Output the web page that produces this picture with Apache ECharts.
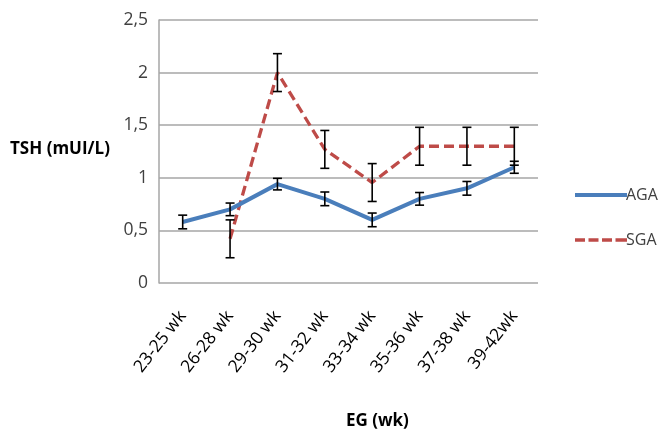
<!DOCTYPE html>
<html><head><meta charset="utf-8">
<script src="https://cdn.jsdelivr.net/npm/echarts@6/dist/echarts.min.js"></script>
<style>html,body{margin:0;padding:0;background:#fff}#c{width:665px;height:439px}</style>
</head><body><div id="c"></div>
<script>
const categories = ['23-25 wk','26-28 wk','29-30 wk','31-32 wk','33-34 wk','35-36 wk','37-38 wk','39-42wk'];
const agaValues = [0.58, 0.70, 0.94, 0.80, 0.60, 0.80, 0.90, 1.10];
const agaErrors = [0.065, 0.06, 0.055, 0.065, 0.065, 0.06, 0.065, 0.057];
const sgaValues = [null, 0.42, 2.00, 1.27, 0.955, 1.30, 1.30, 1.30];
const sgaErrors = [null, 0.18, 0.18, 0.18, 0.18, 0.18, 0.18, 0.18];
const yTicks = [0, 0.5, 1, 1.5, 2, 2.5];

const font = '"Open Sans", "Liberation Sans", sans-serif';
function errData(vals, errs){
  const out = [];
  vals.forEach((v,i)=>{ if(v!=null) out.push([i, v-errs[i], v+errs[i]]); });
  return out;
}
function errRender(params, api){
  const x = api.value(0);
  const lo = api.coord([x, api.value(1)]);
  const hi = api.coord([x, api.value(2)]);
  const w = 4.5;
  const st = {stroke:'#000', lineWidth:1.6};
  return {type:'group', children:[
    {type:'line', shape:{x1:lo[0],y1:lo[1],x2:hi[0],y2:hi[1]}, style:st},
    {type:'line', shape:{x1:lo[0]-w,y1:lo[1],x2:lo[0]+w,y2:lo[1]}, style:st},
    {type:'line', shape:{x1:hi[0]-w,y1:hi[1],x2:hi[0]+w,y2:hi[1]}, style:st}
  ]};
}
const chart = echarts.init(document.getElementById('c'));
chart.setOption({
  animation:false,
  grid:{left:159, right:127, top:20, bottom:156},
  legend:{
    orient:'vertical', left:575, top:187, itemGap:29, itemWidth:52, itemHeight:20, padding:0,
    textStyle:{fontFamily:font, fontSize:16, color:'#404040', padding:[0,0,0,-6]},
    data:[{name:'AGA', icon:'path://M0,8h52v4h-52z'},{name:'SGA', icon:'path://M0,8.3h10v3.4h-10zM13.5,8.3h10v3.4h-10zM27,8.3h10v3.4h-10zM40.5,8.3h11.5v3.4h-11.5z'}]
  },
  xAxis:{
    type:'category', data:categories, boundaryGap:true,
    axisLine:{show:false}, axisTick:{show:false},
    axisLabel:{rotate:52, fontFamily:font, fontSize:17.5, color:'#000', margin:30, interval:0}
  },
  yAxis:{
    type:'value', min:0, max:2.5, interval:0.5,
    axisLine:{show:true, lineStyle:{color:'#a6a6a6', width:1.5}},
    axisTick:{show:false},
    splitLine:{lineStyle:{color:'#a6a6a6', width:1.5}},
    axisLabel:{fontFamily:font, fontSize:17.5, color:'#404040', margin:11,
      formatter:v=>{const t=yTicks.find(x=>Math.abs(x-v)<1e-9); return String(t!=null?t:v).replace('.',',');}}
  },
  graphic:[
    {type:'text', left:10, top:141, style:{text:'TSH (mUI/L)', fontFamily:font, fontSize:17, fontWeight:'bold', fill:'#000'}},
    {type:'text', left:346, top:413, style:{text:'EG (wk)', fontFamily:font, fontSize:17, fontWeight:'bold', fill:'#000'}}
  ],
  series:[
    {name:'SGA', type:'line', data:sgaValues, symbol:'none', connectNulls:false,
     lineStyle:{color:'#be4b48', width:3.3, type:[10,5]}, itemStyle:{color:'#be4b48'}, z:2},
    {name:'AGA', type:'line', data:agaValues, symbol:'none',
     lineStyle:{color:'#4a7ebb', width:4}, itemStyle:{color:'#4a7ebb'}, z:3},
    {type:'custom', data:errData(agaValues, agaErrors), renderItem:errRender, z:5, encode:{x:0,y:[1,2]}},
    {type:'custom', data:errData(sgaValues, sgaErrors), renderItem:errRender, z:5, encode:{x:0,y:[1,2]}}
  ]
});
</script></body></html>
